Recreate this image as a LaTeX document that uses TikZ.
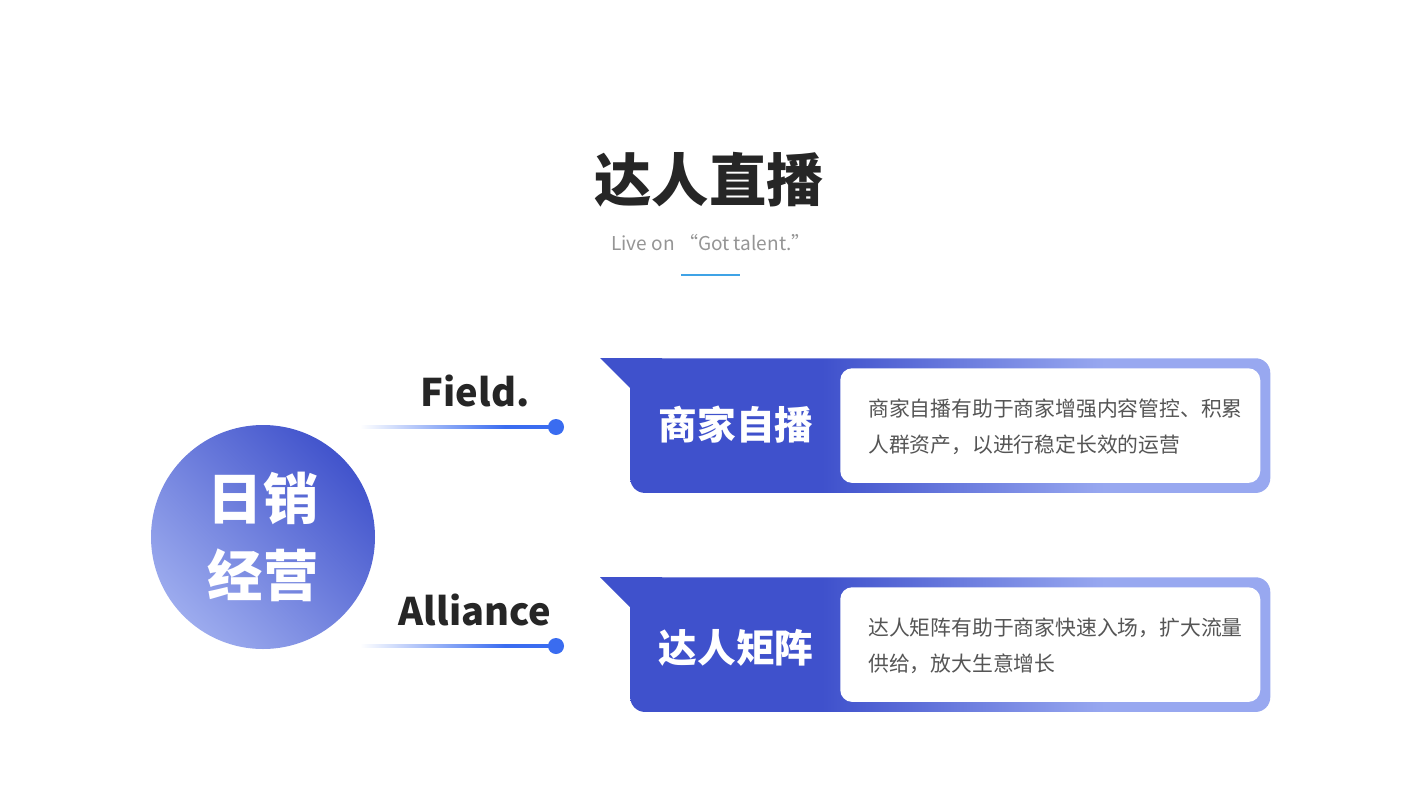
\documentclass[tikz,border=0pt]{standalone}
\usepackage{fontspec}
\setmainfont{Noto Sans CJK SC}
\usetikzlibrary{calc}
\definecolor{cardDark}{HTML}{3F51CC}
\definecolor{cardLight}{HTML}{98A8F0}
\definecolor{circDark}{HTML}{4254CC}
\definecolor{circLight}{HTML}{9CABEE}
\definecolor{lineBlue}{HTML}{3A6CF0}
\definecolor{titleGray}{HTML}{262626}
\definecolor{subGray}{HTML}{959595}
\definecolor{descGray}{HTML}{555555}
\definecolor{accent}{HTML}{3FA3E6}
\pgfdeclarehorizontalshading{cardshade}{100bp}{color(0bp)=(cardDark); color(40bp)=(cardDark); color(62bp)=(cardLight); color(100bp)=(cardLight)}
\pgfdeclarehorizontalshading{lineshade}{100bp}{color(0bp)=(white); color(25bp)=(white); color(62bp)=(lineBlue); color(100bp)=(lineBlue)}
\tikzset{
  cardbody/.style={rectangle, rounded corners=11pt, shade, shading=cardshade, minimum width=480pt, minimum height=101pt, anchor=north west, inner sep=0pt},
  notch/.style={fill=cardDark},
  whitebox/.style={rectangle, fill=white, rounded corners=9pt, minimum width=315pt, minimum height=86pt, anchor=north west, inner sep=0pt},
  cardtitle/.style={text=white, font=\fontsize{29}{34}\selectfont\bfseries},
  desc/.style={anchor=west, align=left, text=descGray, inner sep=0pt, font=\fontsize{15.6}{27}\selectfont},
  sidelabel/.style={text=titleGray, font=\fontsize{28.5}{34}\selectfont\bfseries},
  dotnode/.style={circle, fill=lineBlue, minimum size=12pt, inner sep=0pt},
  gline/.style={shade, shading=lineshade},
}
\begin{document}
\begin{tikzpicture}[x=0.75pt, y=-0.75pt]
\useasboundingbox (0,0) rectangle (1420,800);
\fill[white] (0,0) rectangle (1420,800);

% title
\node[text=titleGray, font=\fontsize{43}{50}\selectfont\bfseries] (title) at (709,180) {达人直播};
\node[text=subGray, font=\fontsize{14.3}{18}\selectfont] (sub) at (711,243) {Live on “Got talent.”};
\draw[accent, line width=1.5pt] (681,275) -- (740,275);

% hub circle
\node[circle, minimum size=168pt, inner sep=0pt, bottom color=circLight, top color=circDark, shading angle=-45,
      text=white, align=center, font=\fontsize{41.5}{58}\selectfont\bfseries] (hub) at (263,537) {日销\\经营};

% side labels and lines
\node[sidelabel] (field) at (475,391) {Field.};
\coordinate (fs) at (360,427);
\node[dotnode] (fdot) at (556,427) {};
\path[gline] ($(fs)+(0,-1.6)$) rectangle ($(fdot.center)+(0,1.6)$);

\node[sidelabel] (alliance) at (475,610) {Alliance};
\coordinate (as) at (360,646);
\node[dotnode] (adot) at (556,646) {};
\path[gline] ($(as)+(0,-1.6)$) rectangle ($(adot.center)+(0,1.6)$);

% card 1
\node[cardbody] (card1) at (630,358) {};
\fill[notch] (600,358) -- (662,358) -- (662,420) -- (630,420) -- (630,388) -- cycle;
\node[whitebox] (box1) at (840,368) {};
\node[cardtitle] (t1) at (736,425) {商家自播};
\node[desc] (d1) at (868,427) {商家自播有助于商家增强内容管控、积累\\人群资产，以进行稳定长效的运营};

% card 2
\node[cardbody] (card2) at (630,577) {};
\fill[notch] (600,577) -- (662,577) -- (662,639) -- (630,639) -- (630,607) -- cycle;
\node[whitebox] (box2) at (840,587) {};
\node[cardtitle] (t2) at (736,648) {达人矩阵};
\node[desc] (d2) at (868,646) {达人矩阵有助于商家快速入场，扩大流量\\供给，放大生意增长};
\end{tikzpicture}
\end{document}
